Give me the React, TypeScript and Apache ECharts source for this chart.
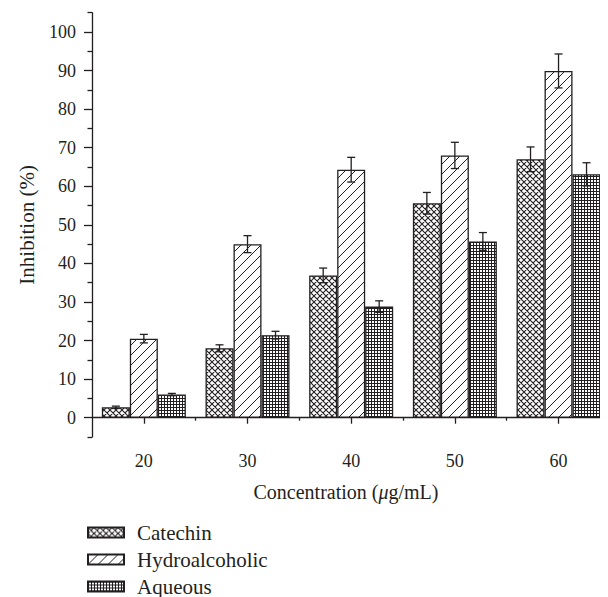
import React, { useEffect, useRef } from "react";
import * as echarts from "echarts";

const concentrations = [20, 30, 40, 50, 60];
const catechin = [2.7, 18.0, 36.9, 55.6, 67.0];
const catechinErr = [0.3, 0.9, 1.9, 2.8, 3.2];
const hydroalcoholic = [20.5, 45.0, 64.3, 68.0, 89.9];
const hydroalcoholicErr = [1.1, 2.2, 3.2, 3.4, 4.4];
const aqueous = [6.0, 21.4, 28.8, 45.7, 63.1];
const aqueousErr = [0.3, 1.0, 1.5, 2.3, 3.0];
const yTicks = [0, 10, 20, 30, 40, 50, 60, 70, 80, 90, 100];
const yMinorTicks = [-5, 5, 15, 25, 35, 45, 55, 65, 75, 85, 95, 105];
const xMinorTicks = [25, 35, 45, 55];

const FONT = "'Liberation Serif', 'DejaVu Serif', serif";
const INK = "#231f20";

function svgUrl(w: number, h: number, body: string) {
  const s = `<svg xmlns="http://www.w3.org/2000/svg" width="${w}" height="${h}"><rect width="${w}" height="${h}" fill="white"/>${body}</svg>`;
  return "data:image/svg+xml;charset=utf-8," + encodeURIComponent(s);
}

const crossPattern = {
  image: svgUrl(6, 6, `<path d="M0,0L6,6M6,0L0,6M-1,5L1,7M5,-1L7,1M-1,1L1,-1M5,7L7,5" stroke="${INK}" stroke-width="1.1" fill="none"/>`),
  repeat: "repeat",
  imageWidth: 6,
  imageHeight: 6,
};
const diagPattern = {
  image: svgUrl(10, 10, `<path d="M0,10L10,0M-2,2L2,-2M8,12L12,8" stroke="${INK}" stroke-width="1" fill="none"/>`),
  repeat: "repeat",
  imageWidth: 10,
  imageHeight: 10,
};
const gridPattern = {
  image: svgUrl(3, 3, `<path d="M0.5,0V3M0,0.5H3" stroke="${INK}" stroke-width="1" fill="none"/>`),
  repeat: "repeat",
  imageWidth: 3,
  imageHeight: 3,
};

export default function App() {
  const ref = useRef<HTMLDivElement>(null);
  useEffect(() => {
    if (!ref.current) return;
    const chart = echarts.init(ref.current, null, { renderer: "svg" });

    const barSeries = (name: string, values: number[], color: any) => ({
      name,
      type: "bar",
      data: concentrations.map((c, i) => [c, values[i]]),
      barWidth: 28,
      barGap: "0%",
      itemStyle: { color, borderColor: INK, borderWidth: 1.3 },
      z: 2,
    });

    const errData: number[][] = [];
    const groups = [
      [catechin, catechinErr, -28],
      [hydroalcoholic, hydroalcoholicErr, 0],
      [aqueous, aqueousErr, 28],
    ] as any[];
    groups.forEach(([vals, errs, off]) => {
      concentrations.forEach((c, i) => errData.push([c, vals[i], errs[i], off]));
    });

    chart.setOption({
      animation: false,
      grid: { left: 79, top: 4.7, right: 0, bottom: 171, containLabel: false },
      legend: {
        orient: "vertical",
        left: 79,
        top: 514,
        padding: 0,
        itemWidth: 36,
        itemHeight: 10,
        itemGap: 6,
        icon: "rect",
        data: ["Catechin", "Hydroalcoholic", "Aqueous"],
        textStyle: { fontFamily: FONT, fontSize: 21, color: INK, padding: [0, 0, 0, 8] },
      },
      xAxis: [
        {
          type: "value",
          min: 15,
          max: 64,
          position: "bottom",
          name: "Concentration ({i|μ}g/mL)",
          nameLocation: "middle",
          nameGap: 45,
          nameTextStyle: {
            fontFamily: FONT,
            fontSize: 20,
            color: INK,
            rich: { i: { fontFamily: FONT, fontSize: 20, fontStyle: "italic", color: INK } },
          },
          axisLine: { show: true, lineStyle: { color: INK, width: 1.3 } },
          axisTick: { show: true, customValues: concentrations, length: 6, lineStyle: { color: INK, width: 1.3 } },
          axisLabel: { customValues: concentrations, margin: 15, fontFamily: FONT, fontSize: 18, color: INK },
          splitLine: { show: false },
        },
        {
          type: "value",
          min: 15,
          max: 64,
          position: "bottom",
          axisLine: { show: false },
          axisTick: { show: true, customValues: xMinorTicks, length: 3, lineStyle: { color: INK, width: 1.3 } },
          axisLabel: { show: false },
          splitLine: { show: false },
        },
      ],
      yAxis: [
        {
          type: "value",
          min: -5,
          max: 105,
          position: "left",
          name: "Inhibition (%)",
          nameLocation: "middle",
          nameGap: 55,
          nameTextStyle: { fontFamily: FONT, fontSize: 21, color: INK },
          axisLine: { show: true, lineStyle: { color: INK, width: 1.3 } },
          axisTick: { show: true, customValues: yTicks, length: 8, lineStyle: { color: INK, width: 1.3 } },
          axisLabel: { customValues: yTicks, margin: 16, fontFamily: FONT, fontSize: 18, color: INK },
          splitLine: { show: false },
        },
        {
          type: "value",
          min: -5,
          max: 105,
          position: "left",
          axisLine: { show: false },
          axisTick: { show: true, customValues: yMinorTicks, length: 4.5, lineStyle: { color: INK, width: 1.3 } },
          axisLabel: { show: false },
          splitLine: { show: false },
        },
      ],
      series: [
        barSeries("Catechin", catechin, crossPattern),
        barSeries("Hydroalcoholic", hydroalcoholic, diagPattern),
        barSeries("Aqueous", aqueous, gridPattern),
        {
          type: "custom",
          name: "errors",
          xAxisIndex: 0,
          yAxisIndex: 0,
          z: 5,
          data: errData,
          renderItem: (params: any, api: any) => {
            const x = api.value(0);
            const v = api.value(1);
            const e = api.value(2);
            const off = api.value(3);
            const top = api.coord([x, v + e]);
            const bot = api.coord([x, v - e]);
            const cx = top[0] + off;
            const hw = 4;
            const style = { stroke: INK, lineWidth: 1.3 };
            return {
              type: "group",
              children: [
                { type: "line", shape: { x1: cx, y1: top[1], x2: cx, y2: bot[1] }, style },
                { type: "line", shape: { x1: cx - hw, y1: top[1], x2: cx + hw, y2: top[1] }, style },
                { type: "line", shape: { x1: cx - hw, y1: bot[1], x2: cx + hw, y2: bot[1] }, style },
              ],
            };
          },
        },
      ],
    });
    return () => chart.dispose();
  }, []);
  return <div ref={ref} style={{ width: 592, height: 600 }} />;
}
